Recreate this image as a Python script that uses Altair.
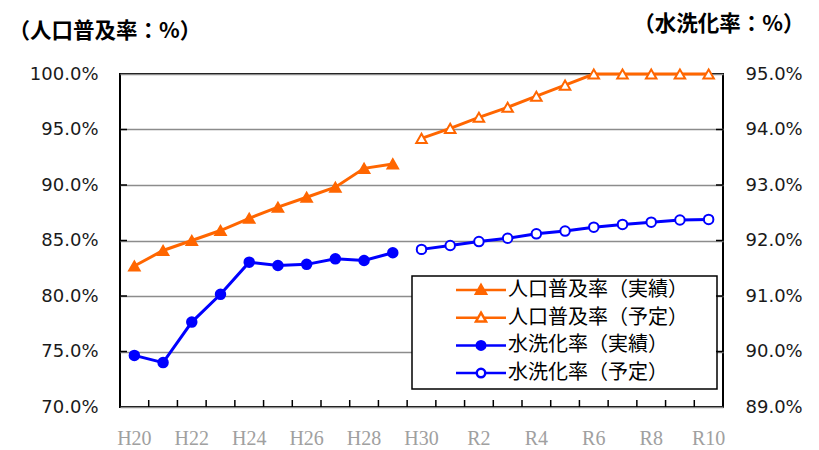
import altair as alt
import pandas as pd

# Fiscal years (Heisei / Reiwa)
years = ["H20", "H21", "H22", "H23", "H24", "H25", "H26", "H27", "H28", "H29",
         "H30", "R1", "R2", "R3", "R4", "R5", "R6", "R7", "R8", "R9", "R10"]
actual_years = years[:10]
plan_years = years[10:]

# 人口普及率 (%), left axis
pop_actual = [82.7, 84.1, 85.0, 85.9, 87.0, 88.0, 88.9, 89.8, 91.5, 91.9]
pop_plan = [94.2, 95.1, 96.1, 97.0, 98.0, 99.0, 100.0, 100.0, 100.0, 100.0, 100.0]

# 水洗化率 (%), right axis
wc_actual = [89.93, 89.80, 90.53, 91.03, 91.61, 91.55, 91.57, 91.67, 91.64, 91.78]
wc_plan = [91.84, 91.91, 91.98, 92.04, 92.12, 92.17, 92.24, 92.29, 92.33, 92.37, 92.38]

series_names = ["人口普及率（実績）", "人口普及率（予定）", "水洗化率（実績）", "水洗化率（予定）"]
x_label_years = years[::2]
left_tick_values = [70, 75, 80, 85, 90, 95, 100]
right_tick_values = [89, 90, 91, 92, 93, 94, 95]

ORANGE = "#FF6600"
BLUE = "#0000FF"
W, H = 603, 333
TICK = 7

pop_df = pd.DataFrame({
    "year": actual_years + plan_years,
    "value": pop_actual + pop_plan,
    "series": [series_names[0]] * len(pop_actual) + [series_names[1]] * len(pop_plan),
})
wc_df = pd.DataFrame({
    "year": actual_years + plan_years,
    "value": wc_actual + wc_plan,
    "series": [series_names[2]] * len(wc_actual) + [series_names[3]] * len(wc_plan),
})

x_scale = alt.Scale(type="band", domain=years, paddingInner=0, paddingOuter=0)
left_scale = alt.Scale(domain=[70, 100], nice=False, zero=False)
right_scale = alt.Scale(domain=[89, 95], nice=False, zero=False)

stroke_scale = alt.Scale(domain=series_names, range=[ORANGE, ORANGE, BLUE, BLUE])
fill_scale = alt.Scale(domain=series_names, range=[ORANGE, "white", BLUE, "white"])

# legend symbols: a short line with the marker in the middle
tri_path = "M-5,0H-0.57M0.57,0H5M0,-1L1,0.75H-1Z"
circ_path = "M-5,0H-0.85M0.85,0H5M0.85,0A0.85,0.85,0,1,1,-0.85,0A0.85,0.85,0,1,1,0.85,0Z"
legend_shape_scale = alt.Scale(domain=series_names,
                               range=[tri_path, tri_path, circ_path, circ_path])

legend = alt.Legend(
    title=None, orient="none", legendX=356 - 5, legendY=206, padding=0,
    labelFont="Noto Sans CJK JP", labelFontSize=20, labelColor="#000000",
    labelLimit=400, labelOffset=17, rowPadding=7.7, symbolSize=100,
    symbolStrokeWidth=2.5,
)

x_axis = alt.Axis(
    title=None, values=x_label_years, labelAngle=0, ticks=False, domain=False,
    grid=False, labelFont="Liberation Serif", labelFontSize=20,
    labelColor="#A0A0A0", labelPadding=21,
)
left_axis = alt.Axis(
    title="（人口普及率：%）", values=left_tick_values,
    labelExpr="format(datum.value, '.1f') + '%'",
    labelFont="DejaVu Sans", labelFontSize=18, labelColor="#1A1A1A",
    labelPadding=22, ticks=False, domain=False,
    grid=True, gridColor="#8C8C8C", gridWidth=1.5,
    titleAngle=0, titleAlign="left", titleBaseline="middle",
    titleX=-112, titleY=-43, titleFont="Noto Sans CJK JP",
    titleFontSize=21.5, titleFontWeight="bold", titleColor="#000000",
)
right_axis = alt.Axis(
    title="（水洗化率：%）", values=right_tick_values, orient="right",
    labelExpr="format(datum.value, '.1f') + '%'",
    labelFont="DejaVu Sans", labelFontSize=18, labelColor="#1A1A1A",
    labelPadding=22, ticks=False, domain=False, grid=False,
    titleAngle=0, titleAlign="right", titleBaseline="middle",
    titleX=81, titleY=-50, titleFont="Noto Sans CJK JP",
    titleFontSize=21.5, titleFontWeight="bold", titleColor="#000000",
)


def x_enc(band_pos=0.5):
    return alt.X("year:N", scale=x_scale, bandPosition=band_pos, axis=x_axis)


def y_left():
    return alt.Y("value:Q", scale=left_scale, axis=left_axis)


def y_right():
    return alt.Y("value:Q", scale=right_scale, axis=right_axis)


def series_points(df, name, y, shape, color, fill, size):
    return alt.Chart(df).transform_filter(
        alt.datum.series == name
    ).mark_point(
        shape=shape, filled=True, opacity=1, size=size, strokeWidth=2,
        stroke=color, fill=fill,
    ).encode(x=x_enc(), y=y)


# ---- left (人口普及率) layer group ----
pop_line = alt.Chart(pop_df).mark_line(strokeWidth=3, color=ORANGE).encode(
    x=x_enc(), y=y_left(), detail="series:N",
)
pop_pts_a = series_points(pop_df, series_names[0], y_left(), "triangle-up", ORANGE, ORANGE, 110)
pop_pts_p = series_points(pop_df, series_names[1], y_left(), "triangle-up", ORANGE, "white", 110)

left_ticks = alt.Chart(pd.DataFrame({"value": left_tick_values[1:-1]})).mark_rule(
    color="black", strokeWidth=1.5
).encode(y=y_left(), x=alt.value(0), x2=alt.value(TICK))

x_ticks = alt.Chart(pd.DataFrame({"year": years[1:]})).mark_rule(
    color="black", strokeWidth=1.5
).encode(x=x_enc(0), y=alt.value(H - TICK), y2=alt.value(H))

legend_box = alt.Chart(pd.DataFrame({"k": [0]})).mark_rect(
    fill="white", stroke="black", strokeWidth=1.5
).encode(
    x=alt.value(292), x2=alt.value(597), y=alt.value(202), y2=alt.value(315),
)

# legend-only layer (draws no marks)
legend_src = alt.Chart(pop_df).transform_filter("false").mark_point(
    filled=True, opacity=1, strokeWidth=2.5
).encode(
    x=x_enc(), y=y_left(),
    stroke=alt.Stroke("series:N", scale=stroke_scale, legend=legend),
    fill=alt.Fill("series:N", scale=fill_scale, legend=legend),
    shape=alt.Shape("series:N", scale=legend_shape_scale, legend=legend),
)

left_layer = alt.layer(left_ticks, x_ticks, pop_line, pop_pts_a, pop_pts_p, legend_src)

# ---- right (水洗化率) layer group ----
wc_line = alt.Chart(wc_df).mark_line(strokeWidth=3, color=BLUE).encode(
    x=x_enc(), y=y_right(), detail="series:N",
)
wc_pts_a = series_points(wc_df, series_names[2], y_right(), "circle", BLUE, BLUE, 90)
wc_pts_p = series_points(wc_df, series_names[3], y_right(), "circle", BLUE, "white", 90)

right_ticks = alt.Chart(pd.DataFrame({"value": right_tick_values[1:-1]})).mark_rule(
    color="black", strokeWidth=1.5
).encode(y=y_right(), x=alt.value(W - TICK), x2=alt.value(W))

right_layer = alt.layer(right_ticks, wc_line, wc_pts_a, wc_pts_p)

chart = alt.layer(legend_box, left_layer, right_layer).resolve_scale(
    y="independent"
).properties(
    width=W, height=H,
    padding={"left": 120, "top": 74, "right": 96, "bottom": 43},
    autosize=alt.AutoSizeParams(type="none"),
    background="white",
).configure_view(stroke="black", strokeWidth=2)

chart.save("out.html", embed_options={"renderer": "svg", "actions": False})
